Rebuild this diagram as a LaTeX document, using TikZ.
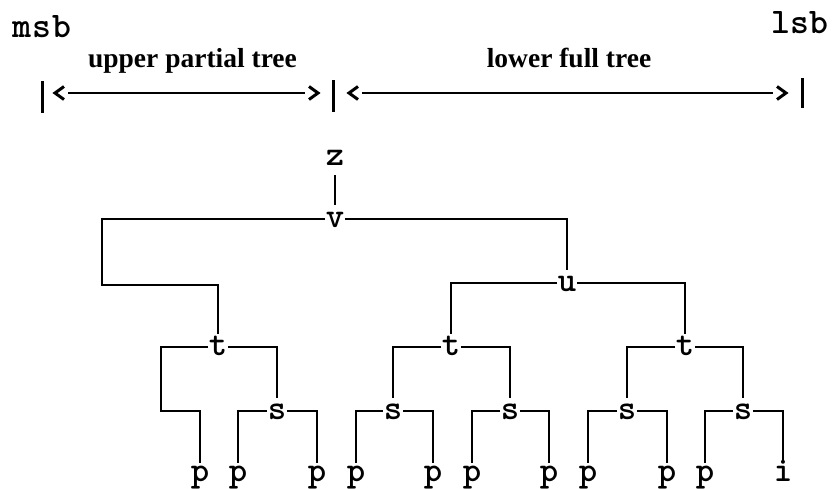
\documentclass[tikz,border=0pt]{standalone}
\usepackage{fontspec}
\newfontfamily\seriffam{Liberation Serif}
\begin{document}
\begin{tikzpicture}[x=1pt,y=-1pt,
  edge/.style={line width=2.1pt, line join=miter},
  tn/.style={font=\ttfamily\bfseries\fontsize{35}{35}\selectfont, inner xsep=0.5pt, inner ysep=0pt, text height=16pt, text depth=0pt},
  endl/.style={font=\ttfamily\bfseries\fontsize{36}{36}\selectfont, inner sep=0pt, anchor=base},
  lab/.style={font=\seriffam\bfseries\fontsize{27.5}{27.5}\selectfont, inner sep=0pt, anchor=base},
  bar/.style={line width=3pt},
  chev/.style={line width=3pt, line join=miter, line cap=butt},
  down/.style={edge, shorten >=5pt},
  downleaf/.style={edge, shorten >=2pt}]
\useasboundingbox (0,0) rectangle (833,488);
% header
\node[endl] (msb) at (42,37) {m\hspace{1pt}s\hspace{1pt}b};
\node[endl] (lsb) at (800,33) {lsb};
\node[lab] (upper) at (192.5,67) {upper partial tree};
\node[lab] (lower) at (569,67) {lower full tree};
\coordinate (bLt) at (42,81);  \coordinate (bLb) at (42,113);
\coordinate (bMt) at (333,80); \coordinate (bMb) at (333,112);
\coordinate (bRt) at (802,78); \coordinate (bRb) at (802,108);
\draw[bar] (bLt) -- (bLb);
\draw[bar] (bMt) -- (bMb);
\draw[bar] (bRt) -- (bRb);
\coordinate (a1) at (55,93);  \coordinate (a2) at (318,93);
\coordinate (a3) at (349,93); \coordinate (a4) at (786,93);
\draw[chev] ([shift={(9,-6.5)}]a1) -- (a1) -- ([shift={(9,6.5)}]a1);
\draw[chev] ([shift={(-9,-6.5)}]a2) -- (a2) -- ([shift={(-9,6.5)}]a2);
\draw[chev] ([shift={(9,-6.5)}]a3) -- (a3) -- ([shift={(9,6.5)}]a3);
\draw[chev] ([shift={(-9,-6.5)}]a4) -- (a4) -- ([shift={(-9,6.5)}]a4);
\draw[line width=1.8pt] ([xshift=13pt]a1) -- ([xshift=-13pt]a2);
\draw[line width=1.8pt] ([xshift=13pt]a3) -- ([xshift=-13pt]a4);
% tree nodes
\node[tn] (z) at (335,157) {z};
\node[tn] (v) at (335,219) {v};
\node[tn] (u) at (567,283) {u};
\node[tn] (t1) at (218,347) {t};
\node[tn] (t2) at (451,347) {t};
\node[tn] (t3) at (685,347) {t};
\node[tn] (s1) at (277,411) {s};
\node[tn] (s2) at (393,411) {s};
\node[tn] (s3) at (510,411) {s};
\node[tn] (s4) at (627,411) {s};
\node[tn] (s5) at (743,411) {s};
\node[tn] (p1) at (200,473) {p};
\node[tn] (p2) at (238,473) {p};
\node[tn] (p3) at (317,473) {p};
\node[tn] (p4) at (356,473) {p};
\node[tn] (p5) at (433,473) {p};
\node[tn] (p6) at (472,473) {p};
\node[tn] (p7) at (549,473) {p};
\node[tn] (p8) at (588,473) {p};
\node[tn] (p9) at (667,473) {p};
\node[tn] (p10) at (705,473) {p};
\node[tn] (i1) at (783,473) {i};
\coordinate (k1) at (102,285);
\coordinate (k2) at (161,411);
% tree edges
\draw[edge, shorten <=10pt, shorten >=6pt] (z.south) -- (v.north);
\draw[down] (v.west) -| (k1) -| (t1.north);
\draw[down] (v.east) -| (u.north);
\draw[down] (u.west) -| (t2.north);
\draw[down] (u.east) -| (t3.north);
\draw[downleaf] (t1.west) -| (k2) -| (p1.north);
\draw[down] (t1.east) -| (s1.north);
\draw[down] (t2.west) -| (s2.north);
\draw[down] (t2.east) -| (s3.north);
\draw[down] (t3.west) -| (s4.north);
\draw[down] (t3.east) -| (s5.north);
\draw[downleaf] (s1.west) -| (p2.north);
\draw[downleaf] (s1.east) -| (p3.north);
\draw[downleaf] (s2.west) -| (p4.north);
\draw[downleaf] (s2.east) -| (p5.north);
\draw[downleaf] (s3.west) -| (p6.north);
\draw[downleaf] (s3.east) -| (p7.north);
\draw[downleaf] (s4.west) -| (p8.north);
\draw[downleaf] (s4.east) -| (p9.north);
\draw[downleaf] (s5.west) -| (p10.north);
\draw[downleaf] (s5.east) -| (i1.north);
\end{tikzpicture}
\end{document}
